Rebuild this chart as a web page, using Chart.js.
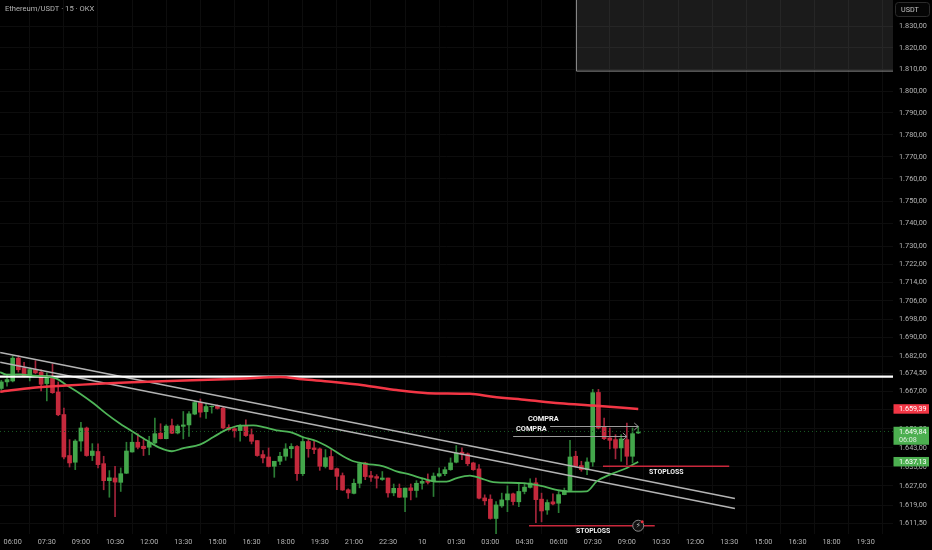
<!DOCTYPE html>
<html>
<head>
<meta charset="utf-8">
<style>html,body{margin:0;padding:0;background:#000;overflow:hidden}canvas{display:block}</style>
<script src="https://cdn.jsdelivr.net/npm/chart.js@4"></script>
</head>
<body>
<canvas id="c" width="932" height="550" style="width:932px;height:550px"></canvas>
<script>
const timeLabels = ["06:00","07:30","09:00","10:30","12:00","13:30","15:00","16:30","18:00","19:30","21:00","22:30","10","01:30","03:00","04:30","06:00","07:30","09:00","10:30","12:00","13:30","15:00","16:30","18:00","19:30"];
const priceTicks = [1830,1820,1810,1800,1790,1780,1770,1760,1750,1740,1730,1722,1714,1706,1698,1690,1682,1674.5,1667,1659,1651,1643,1635,1627,1619,1611.5];
const firstBar = -2;
const opens = [1668.1,1670.9,1671.3,1681.1,1676.9,1673.4,1676.2,1675.1,1670.2,1673.0,1666.6,1657.0,1639.7,1636.9,1645.8,1651.3,1639.7,1641.4,1636.3,1629.2,1630.3,1628.5,1632.3,1641.2,1645.3,1643.6,1643.2,1645.0,1649.1,1646.8,1652.3,1649.2,1652.0,1652.6,1657.2,1662.1,1658.2,1660.3,1660.8,1659.7,1651.6,1651.0,1650.2,1652.0,1648.5,1646.0,1640.1,1639.1,1635.2,1637.3,1639.4,1642.6,1643.5,1632.1,1645.6,1642.9,1642.5,1635.1,1639.3,1634.2,1631.3,1625.4,1623.9,1628.1,1636.6,1631.3,1630.9,1629.7,1630.3,1624.1,1626.0,1622.3,1626.2,1625.1,1628.1,1629.2,1628.9,1631.1,1632.1,1633.8,1636.9,1641.1,1640.4,1636.6,1634.1,1622.0,1621.5,1613.5,1618.7,1621.2,1623.7,1620.4,1624.7,1626.4,1628.3,1621.5,1617.0,1620.4,1619.8,1623.4,1625.1,1639.4,1635.5,1633.8,1637.0,1666.4,1651.7,1647.1,1646.4,1642.9,1646.4,1639.4,1649.2];
const closes = [1670.9,1671.9,1681.1,1676.1,1673.4,1676.2,1674.8,1669.9,1673.3,1666.3,1656.9,1639.1,1636.6,1645.8,1651.3,1639.7,1641.6,1635.9,1629.2,1630.4,1628.6,1632.1,1641.6,1645.3,1643.2,1642.6,1645.3,1648.9,1646.8,1652.1,1649.1,1652.1,1652.6,1657.3,1662.1,1658.0,1660.4,1660.5,1659.6,1651.3,1650.6,1650.2,1652.0,1648.1,1645.7,1639.7,1638.7,1635.1,1637.3,1639.4,1642.5,1643.5,1632.1,1645.6,1642.6,1642.2,1635.2,1638.8,1633.9,1631.0,1625.3,1624.1,1628.1,1636.3,1630.9,1630.6,1630.2,1630.3,1624.1,1626.0,1622.3,1626.1,1625.1,1628.1,1628.9,1628.5,1631.1,1632.1,1633.8,1636.6,1640.8,1640.4,1636.3,1633.8,1621.9,1620.8,1613.5,1619.1,1621.2,1623.7,1620.5,1624.7,1626.5,1628.2,1621.3,1616.6,1620.1,1619.5,1623.4,1625.1,1639.1,1635.2,1633.8,1637.0,1666.3,1651.3,1646.8,1646.1,1642.8,1646.7,1639.4,1648.9,1649.6];
const highs = [1671.6,1673.7,1682.1,1682.1,1679.3,1676.9,1680.0,1676.1,1674.8,1678.6,1670.9,1659.7,1646.4,1646.4,1653.7,1651.7,1644.7,1644.6,1639.4,1633.4,1635.2,1634.5,1645.3,1648.9,1648.9,1646.4,1647.8,1655.5,1653.1,1652.7,1655.1,1652.7,1658.3,1658.3,1662.8,1663.6,1661.8,1660.7,1661.1,1660.4,1652.7,1651.7,1652.7,1654.8,1650.9,1646.0,1641.8,1642.9,1637.3,1641.1,1644.7,1644.7,1643.9,1647.5,1647.0,1645.7,1642.9,1642.2,1642.2,1634.5,1632.4,1625.8,1629.9,1636.9,1636.9,1633.1,1631.7,1633.0,1630.3,1627.8,1627.8,1626.1,1627.8,1629.2,1630.3,1632.0,1632.4,1634.5,1634.9,1638.7,1643.9,1642.9,1640.8,1636.9,1635.9,1623.3,1623.3,1620.5,1624.0,1627.1,1624.0,1628.2,1628.2,1630.0,1630.3,1624.0,1621.2,1623.7,1624.7,1626.1,1646.1,1641.5,1637.3,1638.7,1667.7,1667.7,1655.5,1651.3,1648.5,1648.5,1653.4,1651.3,1652.0];
const lows = [1667.4,1669.1,1670.9,1675.1,1673.0,1671.3,1674.4,1667.1,1662.8,1666.0,1656.5,1638.3,1634.9,1633.8,1641.5,1639.4,1637.6,1634.5,1625.4,1622.3,1614.2,1624.7,1632.1,1641.1,1642.5,1639.7,1640.0,1644.7,1646.7,1646.7,1648.9,1648.8,1646.7,1647.8,1656.9,1655.9,1655.4,1657.6,1659.3,1650.9,1650.3,1647.4,1645.7,1647.8,1644.6,1639.4,1636.6,1634.9,1630.6,1635.9,1637.7,1638.7,1629.3,1631.3,1639.0,1640.5,1633.5,1634.5,1633.8,1625.4,1625.1,1621.8,1623.7,1626.2,1629.6,1628.9,1626.1,1629.3,1622.3,1622.9,1622.2,1616.3,1621.2,1622.3,1625.6,1627.8,1622.6,1630.7,1631.3,1633.5,1636.6,1638.0,1635.5,1633.5,1621.6,1619.1,1613.2,1607.2,1618.1,1616.3,1619.1,1618.4,1623.7,1626.1,1611.8,1612.1,1615.2,1619.1,1615.9,1623.3,1624.7,1634.9,1633.1,1631.7,1635.2,1650.9,1646.4,1642.5,1638.3,1637.3,1635.9,1636.6,1648.9];

const slowBars = [-2.2,3.6,9.5,21,40,47,51,56,62,67.5,73,80.4,84.4,90.4,96.2,102,110];
const slowAvg = [1666.7,1668.4,1669.4,1670.8,1672.3,1673.0,1672.0,1671.0,1669.4,1667.4,1666.1,1665.8,1664.6,1663.2,1661.8,1660.8,1659.39];
const fastBars = [-2.2,-1.1,1.3,3.6,6,7.7,9.5,11.8,14.2,16.5,18.9,21.2,23.6,25.9,28,30,32.9,35.3,37.6,40,42.3,44.1,46.4,48.8,51.1,53.5,55.8,58.1,59.9,62.2,65.2,67.5,69.9,72.2,74.6,76.3,78.1,80.4,82.2,84.5,89.8,92.7,96.2,98.6,100.9,102.7,105,108,110];
const fastAvg = [1675.1,1674.0,1674.1,1673.6,1673.3,1672.3,1669.5,1666.0,1661.8,1657.3,1653.1,1649.6,1646.0,1642.9,1641.5,1642.8,1644.3,1647.5,1650.6,1652.3,1652.4,1651.7,1650.3,1649.6,1647.4,1645.7,1642.9,1639.4,1637.3,1636.2,1635.2,1633.1,1631.7,1630.0,1628.8,1628.8,1630.3,1631.3,1630.3,1628.6,1628.2,1627.1,1625.1,1624.6,1624.7,1628.9,1631.7,1634.5,1637.13];

const upperTrendBars = [-2.2,127], upperTrend = [1683.5,1621.8];
const lowerTrendBars = [-2.2,127], lowerTrend = [1679.3,1617.6];
const levelPrice = 1673.2, lastPrice = 1649.84, slowLast = 1659.39, fastLast = 1637.13, countdown = "06:08";
const axisMinBar = -2.233, axisMaxBar = 154.8;
const stopBars1 = [103.8,126], stopPrice1 = 1635.2;
const stopBars2 = [90.8,112.9], stopPrice2 = 1610.5;
const buyBars1 = [94.5,110], buyPrice1 = 1652.3;
const buyBars2 = [88,108], buyPrice2 = 1648.1;
const boxBars = [99.05,axisMaxBar], boxBottom = 1809.5;
const buyLabelBars = [90.6,88.5], stopLabelBars = [111.9,99.05];

const zip = (a,b) => a.map((x,i)=>({x,y:b[i]}));
const fmt = v => { const s = v.toFixed(2).split('.'); return s[0].replace(/\B(?=(\d{3})+$)/g,'.') + ',' + s[1]; };
const candleIdx = opens.map((_,i)=>i+firstBar);
const up = i => closes[i] >= opens[i];
const GREEN='#43a64b', RED='#c4293c', WGREEN='#2b7d35', WRED='#a3243a';
const lineDs = (data,color,width,extra) => Object.assign({type:'line',data,borderColor:color,borderWidth:width,pointRadius:0,fill:false,order:1},extra||{});
const font = (s,w) => (w||'')+' '+s+'px Roboto, sans-serif';
const noPad = s => { s.paddingTop=0; s.paddingBottom=0; s.paddingLeft=0; s.paddingRight=0; };

const overlay = {
  id:'overlay',
  beforeDatasetsDraw(ch){
    const c=ch.ctx,x=ch.scales.x,y=ch.scales.y;
    const l=x.getPixelForValue(boxBars[0]), r=x.getPixelForValue(boxBars[1]), b=y.getPixelForValue(boxBottom);
    c.save();
    c.fillStyle='rgba(255,255,255,0.105)'; c.fillRect(l,0,r-l,b);
    c.strokeStyle='#8a8a8a'; c.lineWidth=1;
    c.beginPath(); c.moveTo(l+.5,0); c.lineTo(l+.5,b+.5); c.lineTo(r,b+.5); c.stroke();
    c.restore();
  },
  afterDraw(ch){
    const c=ch.ctx,x=ch.scales.x,y=ch.scales.y;
    c.save();
    c.font=font(7.6); c.fillStyle='#b4b4b4'; c.textBaseline='middle'; c.textAlign='left';
    c.fillText('Ethereum/USDT · 15 · OKX',5,9.5);
    c.strokeStyle='#c9283c'; c.lineWidth=1.5;
    [[stopBars1,stopPrice1],[stopBars2,stopPrice2]].forEach(([b,p])=>{
      c.beginPath(); c.moveTo(x.getPixelForValue(b[0]),y.getPixelForValue(p)); c.lineTo(x.getPixelForValue(b[1]),y.getPixelForValue(p)); c.stroke();
    });
    c.strokeStyle='#9c9c9c'; c.lineWidth=1;
    [[buyBars1,buyPrice1],[buyBars2,buyPrice2]].forEach(([b,p])=>{
      const a=x.getPixelForValue(b[0]), e=x.getPixelForValue(b[1]), py=Math.round(y.getPixelForValue(p))+.5;
      c.beginPath(); c.moveTo(a,py); c.lineTo(e,py); c.moveTo(e-4,py-3.5); c.lineTo(e,py); c.lineTo(e-4,py+3.5); c.stroke();
    });
    c.fillStyle='#f2f2f2'; c.font=font(7.4,'700'); c.textAlign='left';
    c.fillText('COMPRA',x.getPixelForValue(buyLabelBars[0]),419.5);
    c.fillText('COMPRA',x.getPixelForValue(buyLabelBars[1]),429);
    c.font=font(6.9,'700');
    c.fillText('STOPLOSS',x.getPixelForValue(stopLabelBars[0]),472);
    c.fillText('STOPLOSS',x.getPixelForValue(stopLabelBars[1]),531);
    const ix=x.getPixelForValue(110), iy=y.getPixelForValue(stopPrice2);
    c.fillStyle='#111'; c.strokeStyle='#8a8a8a'; c.lineWidth=1;
    c.beginPath(); c.arc(ix,iy,5.5,0,Math.PI*2); c.fill(); c.stroke();
    c.fillStyle='#b0b0b0'; c.font='8px "DejaVu Sans"'; c.textAlign='center'; c.fillText('⚡',ix,iy+.5);
    c.fillStyle='#e8303f'; c.beginPath(); c.arc(ix+4,iy-4,1.5,0,Math.PI*2); c.fill();
    const tag=(p,col,h,txt,sub)=>{
      const py=y.getPixelForValue(p), top=py-4.7;
      c.fillStyle=col; c.fillRect(893.5,top,35.5,h);
      c.fillStyle='#ffffff'; c.font=font(7.2); c.textAlign='left'; c.textBaseline='middle';
      c.fillText(txt,899,py+.3);
      if(sub){c.fillStyle='#d8ecd9'; c.fillText(sub,899,py+8.7);}
    };
    tag(slowLast,'#f23645',9.5,fmt(slowLast));
    tag(lastPrice,'#4caf50',18,fmt(lastPrice),countdown);
    tag(fastLast,'#4caf50',9.5,fmt(fastLast));
    c.fillStyle='#050505'; c.strokeStyle='#2c2c2c'; c.lineWidth=1;
    c.beginPath(); c.roundRect(895.5,2.5,34,14,3); c.fill(); c.stroke();
    c.fillStyle='#c4c4c4'; c.font=font(7.2); c.textAlign='left'; c.fillText('USDT',901,10);
    c.restore();
  }
};

new Chart(document.getElementById('c'),{
  type:'bar',
  plugins:[overlay],
  data:{datasets:[
    {label:'wicks',data:candleIdx.map((b,i)=>({x:b,y:[lows[i],highs[i]]})),grouped:false,barThickness:1,order:6,
     backgroundColor:ctx=>up(ctx.dataIndex)?WGREEN:WRED,borderWidth:0},
    {label:'bodies',data:candleIdx.map((b,i)=>({x:b,y:[opens[i],closes[i]]})),grouped:false,barThickness:4,order:5,
     backgroundColor:ctx=>up(ctx.dataIndex)?GREEN:RED,borderWidth:0},
    lineDs(zip([axisMinBar,axisMaxBar],[lastPrice,lastPrice]),'#1a5a24',1,{borderDash:[1,3],order:4}),
    lineDs(zip(upperTrendBars,upperTrend),'#b3b3b3',1.5,{order:3}),
    lineDs(zip(lowerTrendBars,lowerTrend),'#b3b3b3',1.5,{order:3}),
    lineDs(zip([axisMinBar,axisMaxBar],[levelPrice,levelPrice]),'#ffffff',2.3,{order:2}),
    lineDs(zip(slowBars,slowAvg),'#f23645',2.5,{cubicInterpolationMode:'monotone',order:1}),
    lineDs(zip(fastBars,fastAvg),'#4fb558',1.8,{cubicInterpolationMode:'monotone',order:1})
  ]},
  options:{
    responsive:false,animation:false,
    layout:{padding:0},
    plugins:{legend:{display:false},tooltip:{enabled:false},title:{display:false}},
    scales:{
      x:{type:'linear',min:axisMinBar,max:axisMaxBar,offset:false,
        afterBuildTicks:s=>{s.ticks=timeLabels.map((_,i)=>({value:i*6}));},
        afterFit:s=>{s.height=16;noPad(s);},
        grid:{color:'#0d0d0d',drawTicks:false},border:{display:false},
        ticks:{autoSkip:false,maxRotation:0,padding:4,color:'#b4b4b4',font:{family:'Roboto',size:7.3},
          callback:v=>timeLabels[Math.round(v/6)]}},
      y:{type:'logarithmic',position:'right',min:1607.1,max:1842.5,
        afterBuildTicks:s=>{s.ticks=priceTicks.map(v=>({value:v}));},
        afterFit:s=>{s.width=39;noPad(s);},
        grid:{color:'#0d0d0d',drawTicks:false},border:{display:false},
        ticks:{autoSkip:false,padding:6,color:'#b4b4b4',font:{family:'Roboto',size:7.3},callback:v=>fmt(v)}}
    }
  }
});
</script>
</body>
</html>
